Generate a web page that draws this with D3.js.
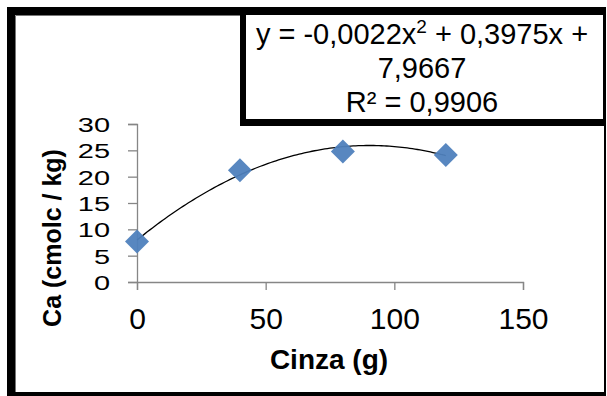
<!DOCTYPE html>
<html>
<head>
<meta charset="utf-8">
<script src="https://cdn.jsdelivr.net/npm/d3@7"></script>
<style>
  html, body { margin: 0; padding: 0; background: #fff; }
  svg { display: block; font-family: "Liberation Sans", Arial, sans-serif; }
</style>
</head>
<body>
<div id="chart"></div>
<script>
// data
const cinza = [0, 40, 80, 120];
const calcio = [7.7, 21.2, 24.8, 24.1];
const fitCoef = [7.9667, 0.3975, -0.0022]; // c, b, a
const xTicks = [0, 50, 100, 150];
const yTicks = [0, 5, 10, 15, 20, 25, 30];
const eqLines = ['7,9667', 'R² = 0,9906'];

const W = 607, H = 396;
const svg = d3.select('#chart').append('svg')
  .attr('width', W).attr('height', H);

// outer frame: thick left/top, thin right/bottom
svg.append('rect').attr('x', 7).attr('y', 7).attr('width', 599).attr('height', 389).attr('fill', '#000');
svg.append('rect').attr('x', 15).attr('y', 15).attr('width', 589).attr('height', 377).attr('fill', '#fff');
svg.append('path').attr('d', 'M15.5,392V15.5H604').attr('stroke', '#777').attr('fill', 'none');

const x = d3.scaleLinear().domain([0, 150]).range([137, 523]);
const y = d3.scaleLinear().domain([0, 30]).range([282, 124]);

const axisColor = '#868686';

const gx = svg.append('g').attr('transform', `translate(0,${y(0)})`)
  .call(d3.axisBottom(x).tickValues(xTicks).tickSize(8).tickPadding(18));
const gy = svg.append('g').attr('transform', `translate(${x(0)},0)`)
  .call(d3.axisLeft(y).tickValues(yTicks).tickSize(9).tickPadding(18));

[gx, gy].forEach(g => {
  g.select('.domain').attr('stroke', axisColor).attr('stroke-width', 1.3);
  g.selectAll('.tick line').attr('stroke', axisColor).attr('stroke-width', 1.3);
  g.selectAll('.tick text').attr('fill', '#000')
    .attr('font-family', '"Liberation Sans", Arial, sans-serif');
});
gx.selectAll('.tick text').attr('font-size', 30);
// y labels are squeezed vertically in the original
gy.selectAll('.tick text').attr('font-size', 29).attr('dy', '0.36em')
  .attr('transform', 'scale(1,0.72)');

// trendline (polynomial, order 2)
const fit = v => fitCoef[0] + fitCoef[1] * v + fitCoef[2] * v * v;
const xs = d3.range(0, 120.5, 1);
svg.append('path')
  .datum(xs)
  .attr('fill', 'none')
  .attr('stroke', '#000')
  .attr('stroke-width', 1.3)
  .attr('d', d3.line().x(d => x(d)).y(d => y(fit(d))));

// diamond markers
const pts = cinza.map((c, i) => ({ c, v: calcio[i] }));
svg.append('g').selectAll('path')
  .data(pts)
  .join('path')
  .attr('transform', d => `translate(${x(d.c)},${y(d.v)})`)
  .attr('d', 'M0,-12L12,0L0,12L-12,0Z')
  .attr('fill', '#4f81bd')
  .attr('fill-opacity', 0.95);

// axis titles
svg.append('text')
  .attr('x', 329).attr('y', 369)
  .attr('text-anchor', 'middle')
  .attr('font-size', 28).attr('font-weight', 'bold')
  .text('Cinza (g)');

svg.append('text')
  .attr('transform', 'translate(61,238) rotate(-90)')
  .attr('text-anchor', 'middle')
  .attr('font-size', 25).attr('font-weight', 'bold')
  .text('Ca (cmolc / kg)');

// equation box
svg.append('rect').attr('x', 240).attr('y', 10).attr('width', 365).attr('height', 116).attr('fill', '#000');
svg.append('rect').attr('x', 246).attr('y', 15).attr('width', 357).attr('height', 104).attr('fill', '#fff');

const eq = svg.append('text')
  .attr('x', 422).attr('y', 44)
  .attr('text-anchor', 'middle')
  .attr('font-size', 29);
eq.append('tspan').text('y = -0,0022x');
eq.append('tspan').attr('dy', -11).attr('font-size', 19).text('2');
eq.append('tspan').attr('dy', 11).text(' + 0,3975x +');

eqLines.forEach((t, i) => {
  svg.append('text')
    .attr('x', 422).attr('y', 78 + i * 34)
    .attr('text-anchor', 'middle')
    .attr('font-size', 29)
    .text(t);
});
</script>
</body>
</html>
